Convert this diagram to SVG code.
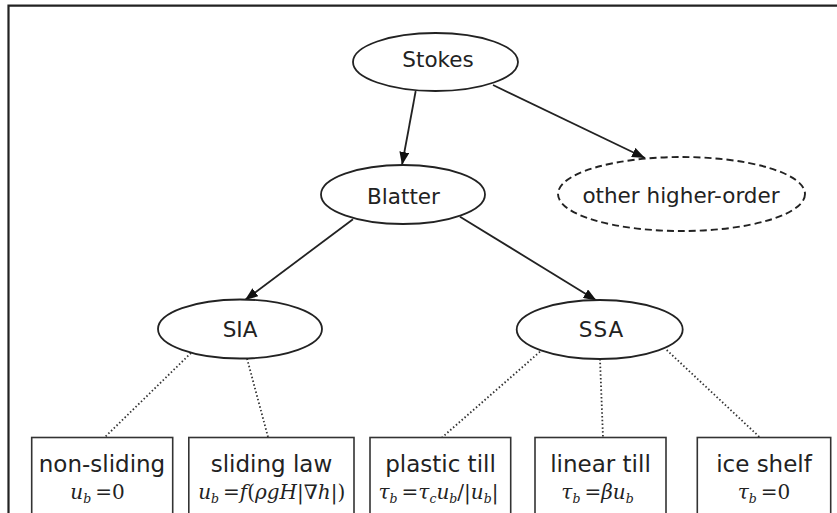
<svg xmlns="http://www.w3.org/2000/svg" width="837" height="513" viewBox="0 0 837 513">
<style>
.frame{fill:none;stroke:#222;stroke-width:2.2}
.node ellipse{fill:#fff;stroke:#222;stroke-width:1.8}
.dashed ellipse{stroke-dasharray:7 4;stroke-width:1.9}
.box rect{fill:#fff;stroke:#333;stroke-width:1.6}
.lbl{font-family:'DejaVu Sans','Liberation Sans',sans-serif;font-size:21.5px;fill:#222;text-anchor:middle}
.ttl{font-size:23px}
.m{font-family:'DejaVu Serif','Liberation Serif',serif;font-size:20px;fill:#222;text-anchor:middle}
.i{font-style:italic}
.s{font-style:italic;font-size:12.5px}
.edge{stroke:#222;stroke-width:1.8;fill:none}
.dot{stroke:#333;stroke-width:1.8;stroke-dasharray:1.5 2.3;fill:none}
</style>
<defs>
<marker id="ah" markerUnits="userSpaceOnUse" markerWidth="14" markerHeight="10" refX="13" refY="5" orient="auto">
<path d="M0,0 L13,5 L0,10 z" fill="#111"/>
</marker>
</defs>
<rect width="837" height="513" fill="#fff"/>
<path class="frame" d="M8.5,513 V5.7 H837"/>

<g id="connectors">
<line class="edge" x1="415.7" y1="91" x2="402" y2="165" marker-end="url(#ah)"/>
<line class="edge" x1="493" y1="85" x2="645" y2="158" marker-end="url(#ah)"/>
<line class="edge" x1="353" y1="219.3" x2="245" y2="300" marker-end="url(#ah)"/>
<line class="edge" x1="460" y1="216.7" x2="596.5" y2="300.5" marker-end="url(#ah)"/>
<line class="dot" x1="191" y1="353" x2="105" y2="437"/>
<line class="dot" x1="247" y1="358.5" x2="268" y2="437"/>
<line class="dot" x1="540" y1="351.7" x2="442" y2="437.5"/>
<line class="dot" x1="600" y1="359" x2="603" y2="437.5"/>
<line class="dot" x1="666.7" y1="350" x2="760" y2="437.5"/>
</g>

<g id="stokes" class="node">
<ellipse cx="435.5" cy="62" rx="82.5" ry="29"/>
<text class="lbl" x="438" y="67">Stokes</text>
</g>
<g id="blatter" class="node">
<ellipse cx="403" cy="194.5" rx="82" ry="29.5"/>
<text class="lbl" x="403.5" y="204">Blatter</text>
</g>
<g id="other" class="node dashed">
<ellipse cx="681.5" cy="194" rx="123.5" ry="37"/>
<text class="lbl" x="681" y="203">other higher-order</text>
</g>
<g id="sia" class="node">
<ellipse cx="240" cy="329" rx="82" ry="29.5"/>
<text class="lbl" x="240" y="337">SIA</text>
</g>
<g id="ssa" class="node">
<ellipse cx="599.7" cy="329.5" rx="83" ry="29.5"/>
<text class="lbl" x="601.5" y="337.3" letter-spacing="1">SSA</text>
</g>

<g id="nonsliding" class="box">
<rect x="31.7" y="437.5" width="141" height="100"/>
<text class="lbl ttl" x="102" y="472">non-sliding</text>
<text class="m" x="97.5" y="499"><tspan class="i">u</tspan><tspan class="s" dy="4">b</tspan><tspan dy="-4" dx="4">=0</tspan></text>
</g>
<g id="slidinglaw" class="box">
<rect x="188.8" y="437.5" width="165.2" height="100"/>
<text class="lbl ttl" x="271.5" y="472">sliding law</text>
<text class="m" x="271.7" y="499"><tspan class="i">u</tspan><tspan class="s" dy="4">b</tspan><tspan dy="-4" dx="4">=</tspan><tspan class="i">f</tspan>(<tspan class="i">ρgH</tspan>|∇<tspan class="i">h</tspan>|)</text>
</g>
<g id="plastictill" class="box">
<rect x="370" y="437.5" width="140.7" height="100"/>
<text class="lbl ttl" x="440.5" y="472">plastic till</text>
<text class="m" x="438.5" y="499"><tspan class="i">τ</tspan><tspan class="s" dy="4">b</tspan><tspan dy="-4" dx="4">=</tspan><tspan class="i">τ</tspan><tspan class="s" dy="4">c</tspan><tspan class="i" dy="-4">u</tspan><tspan class="s" dy="4">b</tspan><tspan dy="-4">/|</tspan><tspan class="i">u</tspan><tspan class="s" dy="4">b</tspan><tspan dy="-4">|</tspan></text>
</g>
<g id="lineartill" class="box">
<rect x="535" y="437.5" width="131" height="100"/>
<text class="lbl ttl" x="600.5" y="472">linear till</text>
<text class="m" x="597.5" y="499"><tspan class="i">τ</tspan><tspan class="s" dy="4">b</tspan><tspan dy="-4" dx="4">=</tspan><tspan class="i">βu</tspan><tspan class="s" dy="4">b</tspan></text>
</g>
<g id="iceshelf" class="box">
<rect x="697.3" y="437.5" width="133.4" height="100"/>
<text class="lbl ttl" x="764" y="472">ice shelf</text>
<text class="m" x="764" y="499"><tspan class="i">τ</tspan><tspan class="s" dy="4">b</tspan><tspan dy="-4" dx="4">=0</tspan></text>
</g>
</svg>
